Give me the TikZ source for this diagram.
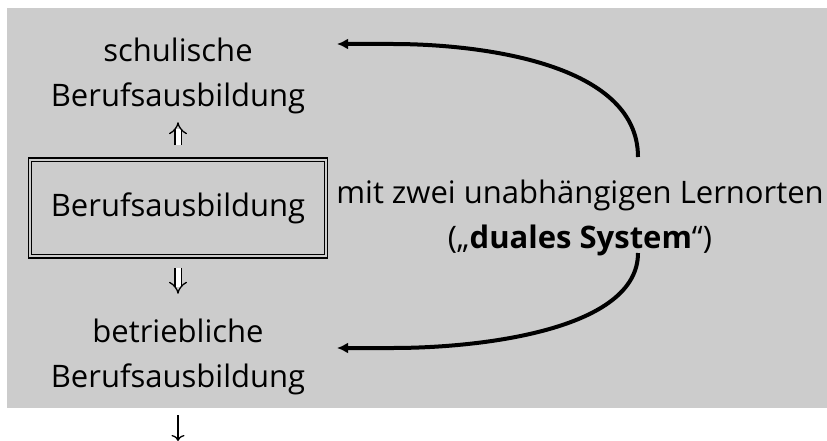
\documentclass[tikz,border=0pt]{standalone}
\usepackage{fontspec}
\setmainfont{Open Sans}
\usetikzlibrary{arrows.meta}
\definecolor{zellgrau}{HTML}{CCCCCC}

\begin{document}
\begin{tikzpicture}[x=1pt, y=-1pt,
    every node/.style={font=\fontsize{31}{45}\selectfont, align=center, inner sep=0pt},
    rahmen/.style={draw, line width=1.6pt, minimum width=299pt, minimum height=100pt},
    bogen/.style={line width=4pt, -{Latex[length=11pt,width=11pt]}},
    doppelpfeil/.style={double, double distance=5pt, line width=1.3pt, -{Implies}},
    pfeil/.style={line width=1.3pt, -{To[length=6pt,width=13pt]}}]
  \useasboundingbox (0,0) rectangle (827,441);
  \fill[zellgrau] (7,8) rectangle (827,408);

  % Nodes
  \node (schul) at (178,76) {schulische\\Berufsausbildung};
  \node[rahmen] (box) at (178,208) {Berufsausbildung};
  \draw[line width=0.8pt] ([shift={(4pt,-4pt)}]box.north west) rectangle ([shift={(-4pt,4pt)}]box.south east);
  \node (betr) at (178,357) {betriebliche\\Berufsausbildung};
  \node (lern) at (580,218) {mit zwei unabhängigen Lernorten\\(„\textbf{duales System}“)};
  \coordinate (weiter) at (178,441);
  \coordinate (obenA) at (638,157);
  \coordinate (obenB) at (337,44);
  \coordinate (untenA) at (638,253);
  \coordinate (untenB) at (337,348);

  % Edges
  \draw[doppelpfeil, shorten <=12pt, shorten >=8pt] (box) -- (schul);
  \draw[doppelpfeil, shorten <=9pt, shorten >=25pt] (box) -- (betr);
  \draw[pfeil, shorten <=20pt] (betr) -- (weiter);
  \draw[bogen] (obenA) .. controls (638,60) and (470,44) .. (393,44) -- (obenB);
  \draw[bogen] (untenA) .. controls (638,330) and (480,348) .. (393,348) -- (untenB);
\end{tikzpicture}
\end{document}
